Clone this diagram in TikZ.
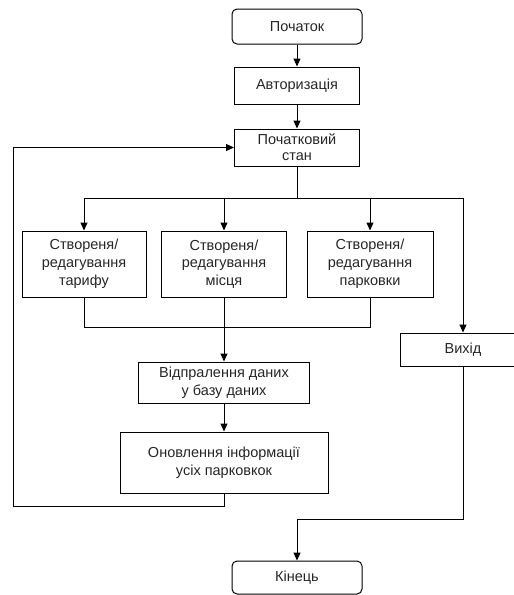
\documentclass[tikz,border=0pt]{standalone}
\usepackage{fontspec}
\setmainfont{Liberation Sans}
\usetikzlibrary{arrows.meta}

\begin{document}
\begin{tikzpicture}[
  x=1pt, y=-1pt,
  every node/.style={font=\fontsize{14.5}{17.8}\selectfont, text=black!85},
  terminal/.style={draw, line width=1pt, rounded corners=5pt, minimum width=130pt,
                   minimum height=35pt, inner sep=0pt},
  process/.style={draw, line width=1pt, minimum width=125pt, inner sep=0pt, align=center},
  link/.style={line width=1pt},
  arrow/.style={line width=1pt, -{Triangle[length=8pt, width=7pt]}},
]
\useasboundingbox (0,0) rectangle (514,595);

\node[terminal] (start) at (297, 26.5) {Початок};
\node[process, minimum height=37pt] (auth) at (297, 85.5) {Авторизація};
\node[process, minimum height=37pt] (init) at (297, 147.5) {Початковий\\[-2pt]стан};

\node[process, minimum width=124pt, minimum height=66pt] (tariff) at (84, 264) {Створеня/\\редагування\\тарифу};
\node[process, minimum height=66pt] (place) at (224, 264) {Створеня/\\редагування\\місця};
\node[process, minimum width=126pt, minimum height=66pt] (park) at (370, 264) {Створеня/\\редагування\\парковки};

\node[process, minimum width=126pt, minimum height=33pt] (exit) at (463, 349.5) {Вихід};
\node[process, minimum width=171pt, minimum height=41pt] (send) at (224, 382.5) {Відпралення даних\\у базу даних};
\node[process, minimum width=208pt, minimum height=61pt] (update) at (224, 462.5) {Оновлення інформації\\усіх парковкок};

\node[terminal, minimum height=33pt] (end) at (297, 577.5) {Кінець};

\coordinate (split) at (297, 198);
\coordinate (merge) at (224, 327);
\coordinate (loop) at (13, 506);
\coordinate (down) at (297, 519);

\draw[arrow] (start) -- (auth);
\draw[arrow] (auth) -- (init);
\draw[link] (init.south) -- (split);
\draw[arrow] (split) -| (tariff.north);
\draw[arrow] (split) -| (place.north);
\draw[arrow] (split) -| (park.north);
\draw[arrow] (split) -| (exit.north);
\draw[link] (tariff.south) |- (merge);
\draw[link] (park.south) |- (merge);
\draw[link] (place.south) -- (merge);
\draw[arrow] (merge) -- (send.north);
\draw[arrow] (send) -- (update);
\draw[arrow] (update.south) |- (loop) |- (init.west);
\draw[arrow] (exit.south) |- (down) -- (end.north);

\end{tikzpicture}
\end{document}
